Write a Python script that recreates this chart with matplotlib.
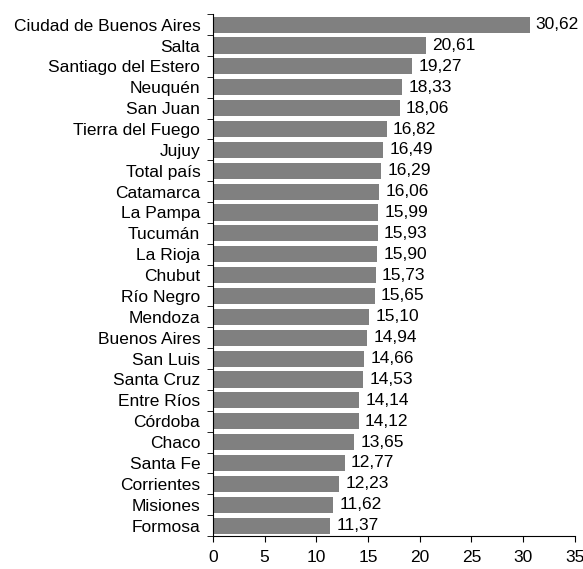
import matplotlib.pyplot as plt
import numpy as np

provincias = ["Ciudad de Buenos Aires", "Salta", "Santiago del Estero", "Neuquén",
              "San Juan", "Tierra del Fuego", "Jujuy", "Total país", "Catamarca",
              "La Pampa", "Tucumán", "La Rioja", "Chubut", "Río Negro", "Mendoza",
              "Buenos Aires", "San Luis", "Santa Cruz", "Entre Ríos", "Córdoba",
              "Chaco", "Santa Fe", "Corrientes", "Misiones", "Formosa"]
valores = [30.62, 20.61, 19.27, 18.33, 18.06, 16.82, 16.49, 16.29, 16.06, 15.99,
           15.93, 15.90, 15.73, 15.65, 15.10, 14.94, 14.66, 14.53, 14.14, 14.12,
           13.65, 12.77, 12.23, 11.62, 11.37]

plt.rcParams['font.family'] = ['Liberation Sans', 'DejaVu Sans']
plt.rcParams['font.size'] = 12.5

fig = plt.figure(figsize=(5.83, 5.69), dpi=100)
ax = fig.add_axes([0.365, 0.058, 0.621, 0.917])

n = len(provincias)
y = np.arange(n)
ax.barh(y, valores, height=0.77, color="#808080")
for yi, v in zip(y, valores):
    ax.text(v + 0.6, yi, f"{v:.2f}".replace(".", ","), va="center", ha="left")

ax.set_ylim(n - 0.5, -0.5)
ax.set_xlim(0, 35)
ax.set_xticks(range(0, 36, 5))
ax.set_yticks(y)
ax.set_yticklabels(provincias)
ax.set_yticks(np.arange(-0.5, n, 1), minor=True)
ax.tick_params(axis="y", which="major", length=0, pad=9)
ax.tick_params(axis="y", which="minor", length=4, direction="out", color="black")
ax.tick_params(axis="x", length=4, direction="out", pad=6)
for s in ("top", "right"):
    ax.spines[s].set_visible(False)
ax.spines["left"].set_color("black")
ax.spines["bottom"].set_color("black")

fig.savefig("out.png", dpi=100)
plt.close(fig)
